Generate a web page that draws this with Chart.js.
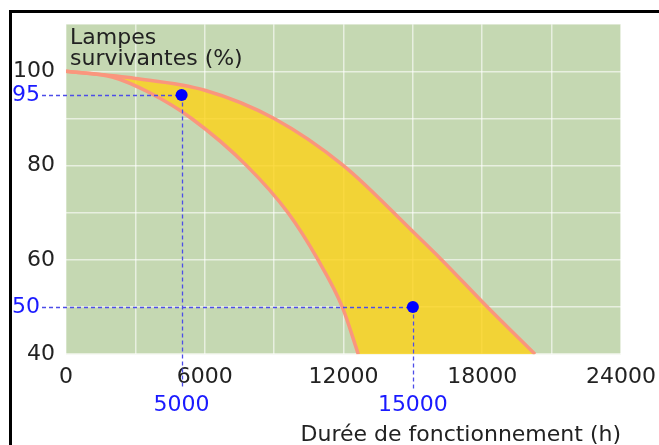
<!DOCTYPE html>
<html>
<head>
<meta charset="utf-8">
<title>Lampes survivantes</title>
<script src="https://cdn.jsdelivr.net/npm/chart.js@4.4.1/dist/chart.umd.min.js"></script>
<style>
  html, body { margin: 0; padding: 0; background: #fff; }
</style>
</head>
<body>
<canvas id="lampChart" width="659" height="445"></canvas>
<script>
// bande de survie : limite haute et limite basse (heures, %)
const upperHours = [0, 3000, 6000, 9000, 12000, 15000, 16250, 18220, 20280];
const upperPct   = [100, 98.5, 96, 90, 80, 66, 60, 50, 40];
const lowerHours = [0, 2000, 3600, 5430, 7810, 9600, 10900, 11950, 12640];
const lowerPct   = [100, 98.8, 95.5, 90, 80, 70, 60, 50, 40];

// points repères en bleu
const markerHours = [5000, 15000];
const markerPct   = [95, 50];

// graduations affichées
const xTickLabels = [0, 6000, 12000, 18000, 24000];
const yTickLabels = [40, 60, 80, 100];

const pink = '#fa967d';
const font = { family: '"DejaVu Sans", sans-serif', size: 22 };

Chart.defaults.font.family = font.family;
Chart.defaults.font.size = font.size;

const toPoints = (xs, ys) => xs.map((v, i) => ({ x: v, y: ys[i] }));

// limite du remplissage : la courbe basse prolongée sous l'axe (hors de la zone visible)
const lowerPts = toPoints(lowerHours, lowerPct);
const n = lowerPts.length;
const k = 12;
const fillFloor = lowerPts.concat([{
	x: lowerPts[n - 1].x + (lowerPts[n - 1].x - lowerPts[n - 2].x) * k,
	y: lowerPts[n - 1].y + (lowerPts[n - 1].y - lowerPts[n - 2].y) * k
}]);

const background = {
	id: 'background',
	beforeDraw(chart) {
		const { ctx, chartArea: a } = chart;
		ctx.save();
		ctx.fillStyle = '#fff';
		ctx.fillRect(0, 0, chart.width, chart.height);
		// cadre noir
		ctx.fillStyle = '#000';
		ctx.fillRect(9, 10, chart.width - 9, 3);
		ctx.fillRect(9, 10, 3, chart.height - 10);
		ctx.fillStyle = '#c5d8b2';
		ctx.fillRect(a.left, a.top, a.right - a.left, a.bottom - a.top);
		ctx.restore();
	}
};

const guides = {
	id: 'guides',
	afterDatasetDraw(chart, args) {
		if (args.index !== 1) return;
		const { ctx, chartArea: a, scales: { x, y } } = chart;
		ctx.save();
		ctx.strokeStyle = '#4d4de8';
		ctx.lineWidth = 1.3;
		ctx.setLineDash([4, 3]);
		markerHours.forEach((h, i) => {
			const px = Math.round(x.getPixelForValue(h)) + 0.5;
			const py = Math.round(y.getPixelForValue(markerPct[i])) + 0.5;
			ctx.beginPath();
			ctx.moveTo(a.left - 24, py);
			ctx.lineTo(px, py);
			ctx.moveTo(px, py);
			ctx.lineTo(px, a.bottom + 35);
			ctx.stroke();
		});
		ctx.restore();
	},
	afterDraw(chart) {
		const { ctx, chartArea: a, scales: { x, y } } = chart;
		ctx.save();
		ctx.font = '22px "DejaVu Sans", sans-serif';
		ctx.fillStyle = '#1a1aff';
		markerHours.forEach((h, i) => {
			const px = x.getPixelForValue(h);
			const py = y.getPixelForValue(markerPct[i]);
			ctx.textAlign = 'right';
			ctx.textBaseline = 'middle';
			ctx.fillText(String(markerPct[i]), a.left - 26, py);
			ctx.textAlign = 'center';
			ctx.fillText(String(h), px, a.bottom + 51);
		});
		// titre de l'axe vertical, dans le graphique
		ctx.fillStyle = '#222';
		ctx.textAlign = 'left';
		ctx.textBaseline = 'alphabetic';
		ctx.fillText('Lampes', a.left + 4, a.top + 20);
		ctx.fillText('survivantes (%)', a.left + 4, a.top + 41);
		ctx.restore();
	}
};

new Chart(document.getElementById('lampChart'), {
	type: 'line',
	data: {
		datasets: [
			{
				label: 'Repères',
				data: toPoints(markerHours, markerPct),
				showLine: false,
				pointRadius: 6,
				pointBackgroundColor: '#0000ff',
				pointBorderWidth: 0
			},
			{
				label: 'Limite haute',
				data: toPoints(upperHours, upperPct),
				borderColor: pink,
				borderWidth: 3.5,
				pointRadius: 0,
				cubicInterpolationMode: 'monotone',
				backgroundColor: 'rgba(253, 210, 22, 0.8)',
				fill: 3
			},
			{
				label: 'Limite basse',
				data: lowerPts,
				borderColor: pink,
				borderWidth: 3.5,
				pointRadius: 0,
				cubicInterpolationMode: 'monotone',
				fill: false
			},
			{
				label: 'fond',
				data: fillFloor,
				borderWidth: 0,
				borderColor: 'rgba(0,0,0,0)',
				pointRadius: 0,
				cubicInterpolationMode: 'monotone',
				fill: false
			}
		]
	},
	options: {
		responsive: false,
		animation: false,
		devicePixelRatio: 1,
		layout: { padding: { left: 2, right: 38, top: 22, bottom: 0 } },
		plugins: {
			legend: { display: false },
			tooltip: { enabled: false },
			filler: { drawTime: 'beforeDatasetsDraw' }
		},
		scales: {
			x: {
				type: 'linear',
				min: 0,
				max: 24000,
				border: { display: false },
				grid: { color: 'rgba(255, 255, 255, 0.6)', lineWidth: 1.5, drawTicks: false },
				ticks: {
					stepSize: 3000,
					autoSkip: false,
					maxRotation: 0,
					minRotation: 0,
					padding: 10,
					color: '#222',
					callback: v => xTickLabels.includes(v) ? String(v) : ''
				},
				title: {
					display: true,
					text: 'Durée de fonctionnement (h)',
					align: 'end',
					color: '#222',
					padding: { top: 21, bottom: -3 }
				},
				// le dernier libellé (24000) peut déborder dans la marge
				afterFit: scale => { scale.paddingRight = 0; }
			},
			y: {
				min: 40,
				max: 110,
				border: { display: false },
				grid: { color: 'rgba(255, 255, 255, 0.6)', lineWidth: 1.5, drawTicks: false },
				ticks: {
					stepSize: 10,
					padding: 11,
					color: '#222',
					callback: v => yTickLabels.includes(v) ? String(v) : ''
				}
			}
		}
	},
	plugins: [background, guides]
});
</script>
</body>
</html>
